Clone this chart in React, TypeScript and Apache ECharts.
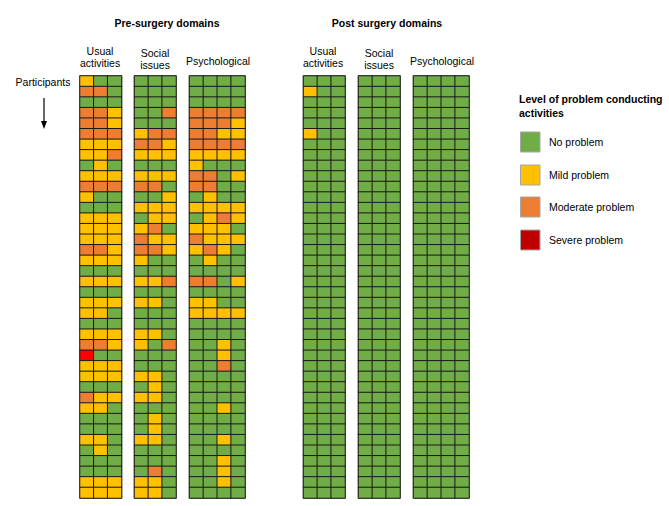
import React, { useEffect, useRef } from "react";
import * as echarts from "echarts";

// 0 = no problem, 1 = mild, 2 = moderate, 3 = severe
const levelNames = ["No problem", "Mild problem", "Moderate problem", "Severe problem"];
const levelColors = ["#70AD47", "#FFC000", "#ED7D31", "#FF0000"];
const legendSwatchColors = ["#70AD47", "#FFC000", "#ED7D31", "#C00000"];

const preUsual = [
  [1,0,0],[2,2,0],[0,0,0],[2,2,1],[2,2,1],[2,2,2],[1,1,1],[1,1,2],[0,1,0],[1,1,1],
  [2,2,2],[1,0,0],[0,0,0],[1,1,1],[1,1,1],[1,1,1],[2,2,1],[1,1,1],[0,0,0],[1,1,1],
  [0,0,0],[1,1,1],[1,1,0],[0,0,0],[1,1,1],[2,2,1],[3,0,0],[1,1,1],[1,1,1],[0,0,0],
  [2,1,1],[1,1,0],[0,0,0],[0,0,0],[1,1,0],[0,1,0],[0,0,0],[0,0,0],[1,1,1],[1,1,1],
];
const preSocial = [
  [0,0,0],[0,0,0],[0,0,0],[0,0,2],[0,0,0],[1,2,2],[2,2,1],[1,1,1],[0,0,0],[1,1,1],
  [2,2,0],[0,0,1],[1,1,1],[0,1,1],[1,2,0],[2,1,1],[2,2,1],[1,0,0],[0,0,0],[1,1,2],
  [0,0,0],[1,1,0],[0,0,0],[0,0,0],[1,1,0],[1,0,2],[0,0,0],[0,0,0],[1,1,0],[0,1,0],
  [1,1,0],[0,0,0],[0,1,0],[0,1,0],[1,1,0],[0,0,0],[0,0,0],[0,2,0],[1,1,0],[1,1,0],
];
const prePsych = [
  [0,0,0,0],[0,0,0,0],[0,0,0,0],[2,2,2,2],[2,2,2,1],[2,2,1,1],[2,2,2,2],[1,1,1,1],[1,0,0,0],[2,2,0,1],
  [2,2,0,0],[0,1,0,0],[1,1,1,1],[0,1,2,1],[1,1,1,0],[2,1,1,1],[1,2,1,0],[0,1,0,0],[0,0,0,0],[2,2,0,1],
  [0,0,0,0],[1,1,0,0],[1,1,1,1],[0,0,0,0],[0,0,0,0],[0,0,1,0],[0,0,1,0],[0,0,2,0],[0,0,0,0],[0,0,0,0],
  [0,0,0,0],[0,0,1,0],[0,0,0,0],[0,0,0,0],[0,0,1,0],[0,0,0,0],[0,0,1,0],[0,0,1,0],[0,0,1,0],[0,0,0,0],
];
const postUsual = [
  [0,0,0],[1,0,0],[0,0,0],[0,0,0],[0,0,0],[1,0,0],[0,0,0],[0,0,0],[0,0,0],[0,0,0],
  [0,0,0],[0,0,0],[0,0,0],[0,0,0],[0,0,0],[0,0,0],[0,0,0],[0,0,0],[0,0,0],[0,0,0],
  [0,0,0],[0,0,0],[0,0,0],[0,0,0],[0,0,0],[0,0,0],[0,0,0],[0,0,0],[0,0,0],[0,0,0],
  [0,0,0],[0,0,0],[0,0,0],[0,0,0],[0,0,0],[0,0,0],[0,0,0],[0,0,0],[0,0,0],[0,0,0],
];
const postSocial = Array.from({ length: 40 }, () => [0, 0, 0]);
const postPsych = Array.from({ length: 40 }, () => [0, 0, 0, 0]);

const groupTitles = ["Pre-surgery domains", "Post surgery domains"];
const domainLabels = [["Usual", "activities"], ["Social", "issues"], ["Psychological"]];

// layout (pixels)
const GRID_TOP = 76;
const GRID_H = 422;
const blockLayout = [
  { data: preUsual, left: 80, width: 41.5, label: 0, cx: 100, group: 0 },
  { data: preSocial, left: 134.5, width: 41.5, label: 1, cx: 155, group: 0 },
  { data: prePsych, left: 189.5, width: 55.5, label: 2, cx: 218, group: 0 },
  { data: postUsual, left: 303.5, width: 41.5, label: 0, cx: 323, group: 1 },
  { data: postSocial, left: 358.5, width: 41.5, label: 1, cx: 379, group: 1 },
  { data: postPsych, left: 413.5, width: 55.5, label: 2, cx: 442, group: 1 },
];
const groupCenters = [167, 387];

const FONT = '"Liberation Sans", Arial, sans-serif';

export default function App() {
  const ref = useRef<HTMLDivElement>(null);
  useEffect(() => {
    if (!ref.current) return;
    const chart = echarts.init(ref.current, undefined, { renderer: "svg" });

    const grids: any[] = [];
    const xAxes: any[] = [];
    const yAxes: any[] = [];
    const series: any[] = [];
    blockLayout.forEach((b, i) => {
      const nCols = b.data[0].length;
      const nRows = b.data.length;
      grids.push({
        left: b.left, top: GRID_TOP, width: b.width, height: GRID_H,
        show: true, borderColor: "#8c8c8c", borderWidth: 1.5, backgroundColor: "transparent",
      });
      xAxes.push({
        type: "category", gridIndex: i, show: false,
        data: Array.from({ length: nCols }, (_, k) => String(k)),
      });
      yAxes.push({
        type: "category", gridIndex: i, show: false, inverse: true,
        data: Array.from({ length: nRows }, (_, k) => String(k + 1)),
      });
      const d: number[][] = [];
      b.data.forEach((row, r) => row.forEach((v, c) => d.push([c, r, v])));
      series.push({
        type: "heatmap", xAxisIndex: i, yAxisIndex: i, data: d,
        itemStyle: { borderColor: "#1a1a1a", borderWidth: 1 },
        emphasis: { disabled: true },
        silent: true,
      });
    });

    const txt = (text: string, x: number, y: number, opts: any = {}) => ({
      type: "text", x, y, silent: true,
      style: {
        text, fill: "#000", font: `${opts.bold ? "bold " : ""}10.5px ${FONT}`,
        align: opts.align || "center", verticalAlign: "middle",
      },
    });

    const graphics: any[] = [];
    groupTitles.forEach((t, i) => graphics.push(txt(t, groupCenters[i], 23, { bold: true })));
    blockLayout.forEach((b) => {
      const lines = domainLabels[b.label];
      if (lines.length === 1) graphics.push(txt(lines[0], b.cx, 61));
      else {
        const y0 = b.label === 0 ? 50.5 : 52.5;
        graphics.push(txt(lines[0], b.cx, y0));
        graphics.push(txt(lines[1], b.cx, y0 + 12.5));
      }
    });
    graphics.push(txt("Participants", 43, 82));
    graphics.push({ type: "line", silent: true, shape: { x1: 44, y1: 98, x2: 44, y2: 124 }, style: { stroke: "#000", lineWidth: 1.2 } });
    graphics.push({ type: "polygon", silent: true, shape: { points: [[41, 121], [47, 121], [44, 129]] }, style: { fill: "#000" } });

    graphics.push(txt("Level of problem conducting", 519, 99, { bold: true, align: "left" }));
    graphics.push(txt("activities", 519, 112.5, { bold: true, align: "left" }));
    const swY = [132, 165, 197, 230];
    levelNames.forEach((name, i) => {
      graphics.push({
        type: "rect", silent: true,
        shape: { x: 520.5, y: swY[i], width: 19.5, height: 20 },
        style: { fill: legendSwatchColors[i], stroke: "#a6a6a6", lineWidth: 1 },
      });
      graphics.push(txt(name, 549, swY[i] + 10, { align: "left" }));
    });

    chart.setOption({
      animation: false,
      backgroundColor: "#fff",
      grid: grids,
      xAxis: xAxes,
      yAxis: yAxes,
      visualMap: {
        type: "piecewise", show: false, dimension: 2,
        pieces: levelColors.map((c, i) => ({ value: i, color: c })),
      },
      series,
      graphic: graphics,
    });
    return () => chart.dispose();
  }, []);
  return (
    <div
      ref={ref}
      style={{ position: "fixed", left: 0, top: 0, width: 669, height: 506, background: "#fff" }}
    />
  );
}
